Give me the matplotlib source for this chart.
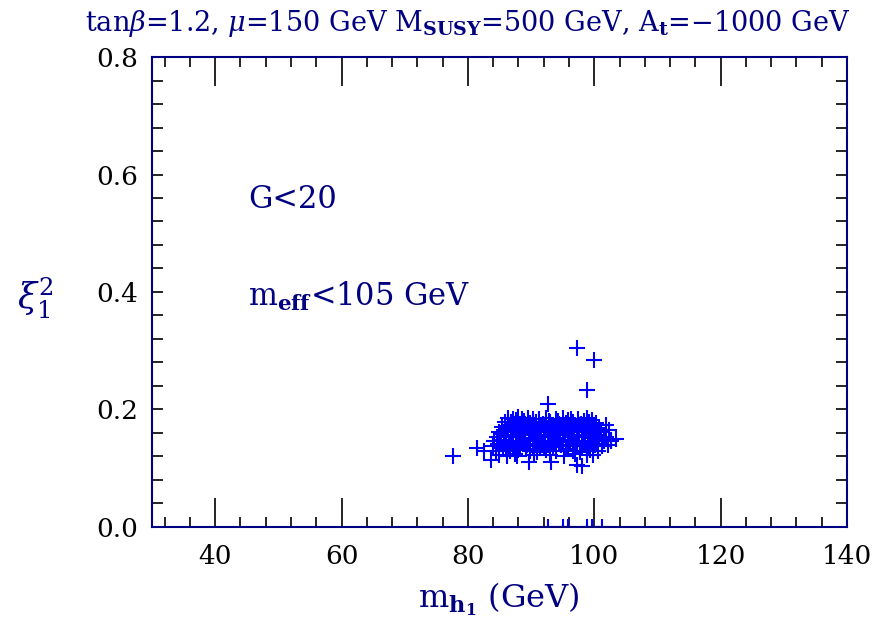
import matplotlib
matplotlib.use("Agg")
import matplotlib.pyplot as plt
from matplotlib.ticker import MultipleLocator

plt.rcParams['font.family'] = 'DejaVu Serif'
plt.rcParams['mathtext.fontset'] = 'dejavuserif'

NAVY = '#000080'
BLUE = '#0000ff'

# scan points, dense cluster around m_h1 ~ 85-102 GeV
blob_x = [86.3, 87.1, 88.0, 88.6, 89.5, 91.2, 92.4, 93.9, 95.0, 96.3, 97.5, 98.8, 99.6,
          85.8, 86.9, 87.8, 88.9, 89.9, 90.8, 91.9, 93.0, 94.2, 95.6, 96.7, 97.9, 99.1, 100.2,
          85.4, 86.4, 87.5, 88.3, 89.3, 90.4, 91.5, 92.7, 93.6, 94.8, 96.0, 97.2, 98.4, 99.5, 100.7,
          85.0, 86.1, 87.2, 88.2, 89.1, 90.1, 91.1, 92.2, 93.3, 94.5, 95.4, 96.5, 97.6, 98.7, 99.9, 101.0,
          84.6, 85.7, 86.8, 87.9, 89.0, 89.8, 90.9, 92.0, 93.1, 94.1, 95.3, 96.4, 97.4, 98.5, 99.6, 100.8, 101.8,
          84.2, 85.3, 86.5, 87.6, 88.7, 89.6, 90.6, 91.7, 92.9, 93.8, 95.0, 96.1, 97.2, 98.2, 99.3, 100.5, 101.6, 102.6,
          83.9, 85.0, 86.0, 87.1, 88.3, 89.4, 90.3, 91.4, 92.6, 93.5, 94.7, 95.8, 96.9, 98.0, 99.0, 100.1, 101.3,
          84.4, 85.6, 86.7, 88.0, 89.8, 91.0, 92.3, 94.0, 95.5, 96.6, 97.8, 99.4, 100.6,
          84.9, 86.2, 87.4, 90.5, 93.0, 95.2, 97.0, 98.9,
          86.7, 87.6, 89.0, 90.3, 91.6, 92.9, 94.4, 95.9, 97.0, 98.3, 99.8,
          85.2, 86.0, 88.5, 90.0, 91.3, 92.5, 94.0, 95.1, 96.8, 98.1, 99.4, 100.9,
          84.8, 86.3, 87.7, 89.2, 90.8, 92.1, 93.7, 95.6, 97.3, 98.9, 100.3, 102.1]
blob_y = [0.186, 0.184, 0.187, 0.183, 0.185, 0.184, 0.186, 0.183, 0.185, 0.184, 0.183, 0.186, 0.182,
          0.178, 0.179, 0.176, 0.180, 0.177, 0.179, 0.176, 0.178, 0.180, 0.177, 0.179, 0.176, 0.178, 0.177,
          0.170, 0.172, 0.169, 0.171, 0.168, 0.172, 0.170, 0.169, 0.171, 0.168, 0.172, 0.170, 0.169, 0.171, 0.168,
          0.162, 0.164, 0.161, 0.163, 0.160, 0.164, 0.162, 0.161, 0.163, 0.160, 0.164, 0.162, 0.161, 0.163, 0.160, 0.162,
          0.154, 0.156, 0.153, 0.155, 0.152, 0.156, 0.154, 0.153, 0.155, 0.152, 0.156, 0.154, 0.153, 0.155, 0.152, 0.156, 0.153,
          0.146, 0.148, 0.145, 0.147, 0.144, 0.148, 0.146, 0.145, 0.147, 0.144, 0.148, 0.146, 0.145, 0.147, 0.144, 0.148, 0.146, 0.147,
          0.138, 0.140, 0.137, 0.139, 0.136, 0.140, 0.138, 0.137, 0.139, 0.136, 0.140, 0.138, 0.137, 0.139, 0.136, 0.140, 0.138,
          0.130, 0.132, 0.129, 0.131, 0.130, 0.128, 0.131, 0.129, 0.132, 0.130, 0.128, 0.131, 0.129,
          0.123, 0.121, 0.124, 0.122, 0.123, 0.121, 0.124, 0.122,
          0.174, 0.182, 0.173, 0.183, 0.174, 0.181, 0.175, 0.182, 0.174, 0.181, 0.174,
          0.158, 0.167, 0.158, 0.166, 0.157, 0.166, 0.158, 0.167, 0.157, 0.166, 0.158, 0.165,
          0.142, 0.134, 0.142, 0.133, 0.141, 0.134, 0.142, 0.133, 0.141, 0.134, 0.142, 0.140]

# scattered points outside the main cluster
outlier_x = [77.6, 81.4, 82.6, 83.7, 87.7, 89.7, 93.2, 97.2, 98.0, 99.8,
             92.7, 98.8, 97.2, 100.0, 101.9, 102.7, 103.5, 102.3]
outlier_y = [0.121, 0.134, 0.130, 0.114, 0.120, 0.111, 0.111, 0.106, 0.103, 0.122,
             0.209, 0.233, 0.305, 0.284, 0.174, 0.148, 0.150, 0.165]

# points sitting at xi^2 = 0
rug_x = [92.7, 95.1, 95.8, 98.9, 99.6, 101.2]
rug_y = [0.0] * len(rug_x)

fig = plt.figure(figsize=(8.75, 6.21), dpi=100)
ax = fig.add_axes([0.1737, 0.1514, 0.7943, 0.7568])

mk = dict(ls='none', marker='+', color=BLUE, ms=12, mew=1.5)
ax.plot(blob_x, blob_y, **mk)
ax.plot(outlier_x, outlier_y, **mk)
ax.plot(rug_x, rug_y, **mk)

ax.set_xlim(30, 140)
ax.set_ylim(0, 0.8)
ax.xaxis.set_minor_locator(MultipleLocator(4))
ax.yaxis.set_minor_locator(MultipleLocator(0.04))
ax.set_yticks([0, 0.2, 0.4, 0.6, 0.8])
ax.set_yticklabels(['0.0', '0.2', '0.4', '0.6', '0.8'])
ax.set_xticks([40, 60, 80, 100, 120, 140])

ax.tick_params(axis='both', which='both', direction='in', top=True, right=True,
               color='black', labelsize=19)
ax.tick_params(axis='x', which='major', length=21, width=1.2, pad=12)
ax.tick_params(axis='x', which='minor', length=7, width=1.2)
ax.tick_params(axis='y', which='both', length=8, width=1.2, pad=10)
for s in ax.spines.values():
    s.set_color(NAVY)
    s.set_linewidth(1.5)

ax.text(45.2, 0.557, 'G<20', color=NAVY, fontsize=22, va='center')
ax.text(45.2, 0.393, r'm$_{\mathbf{eff}}$<105 GeV', color=NAVY, fontsize=22, va='center')

fig.text(0.535, 0.962, r'tan$\beta$=1.2, $\mu$=150 GeV M$_{\mathbf{SUSY}}$=500 GeV, A$_{\mathbf{t}}$=$-$1000 GeV',
         color=NAVY, fontsize=19.5, ha='center', va='center')
fig.text(0.57, 0.035, r'm$_{\mathbf{h_1}}$ (GeV)', color=NAVY, fontsize=23, ha='center', va='center')
fig.text(0.04, 0.52, r'$\xi_1^2$', color=NAVY, fontsize=25, ha='center', va='center')

fig.savefig('out.png', dpi=100)
